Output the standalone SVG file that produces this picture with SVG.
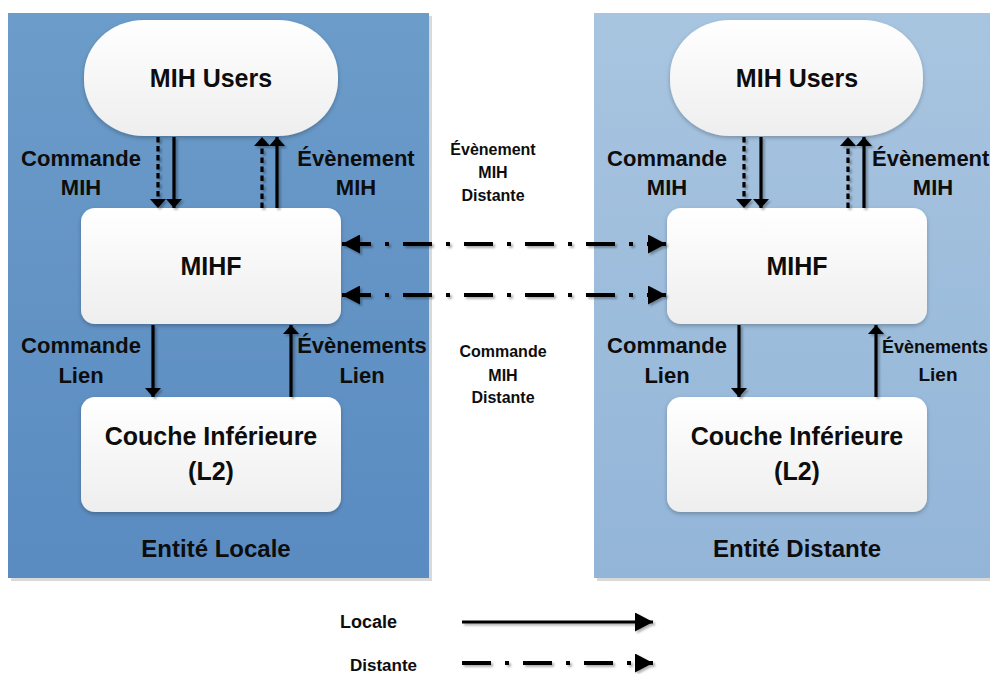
<svg xmlns="http://www.w3.org/2000/svg" width="990" height="674" viewBox="0 0 990 674">
<defs>
<linearGradient id="gL" x1="0" y1="0" x2="0" y2="1"><stop offset="0" stop-color="#6c9cc9"/><stop offset="1" stop-color="#5a8bc1"/></linearGradient>
<linearGradient id="gR" x1="0" y1="0" x2="0" y2="1"><stop offset="0" stop-color="#a8c5e0"/><stop offset="1" stop-color="#93b5d8"/></linearGradient>
<linearGradient id="gN" x1="0" y1="0" x2="0" y2="1"><stop offset="0" stop-color="#ffffff"/><stop offset="1" stop-color="#eeeeee"/></linearGradient>
<filter id="ns" x="-10%" y="-10%" width="120%" height="130%"><feDropShadow dx="0" dy="2" stdDeviation="2" flood-color="#000" flood-opacity="0.25"/></filter>
<filter id="ls" x="-10%" y="-10%" width="120%" height="130%"><feDropShadow dx="2" dy="2" stdDeviation="0.8" flood-color="#000" flood-opacity="0.3"/></filter>
<marker id="ah" viewBox="0 0 9 16" refX="9" refY="8" markerWidth="9" markerHeight="16" markerUnits="userSpaceOnUse" orient="auto"><path d="M0,0 L9,8 L0,16 z" fill="#000"/></marker>
<marker id="ahb" viewBox="0 0 18 19" refX="18" refY="9.5" markerWidth="18" markerHeight="19" markerUnits="userSpaceOnUse" orient="auto-start-reverse"><path d="M0,0 L18,9.5 L0,19 z" fill="#000"/></marker>
</defs>
<style>
text{font-family:"Liberation Sans",Arial,sans-serif;font-weight:bold;fill:#0d0d0d}
.n{font-size:25px;text-anchor:middle}
.l{font-size:22px;text-anchor:middle}
.m{font-size:16px;text-anchor:middle}
.node{fill:url(#gN);filter:url(#ns)}
.s{stroke:#000;stroke-width:3.2;fill:none}
.d{stroke:#000;stroke-width:3.2;fill:none;stroke-dasharray:5.5 3.5}
.dd{stroke:#000;stroke-width:4;fill:none;stroke-dasharray:29 14 4 14}
</style>
<rect x="11" y="16" width="421" height="565" fill="#d9d9d9"/>
<rect x="8" y="13" width="421" height="565" fill="url(#gL)"/>
<rect x="597" y="16" width="400" height="565" fill="#d9d9d9"/>
<rect x="594" y="13" width="400" height="565" fill="url(#gR)"/>

<g id="users-local"><rect class="node" x="84" y="20" width="254" height="116" rx="60" ry="56"/><text class="n" x="211" y="87">MIH Users</text></g>
<g id="mihf-local"><rect class="node" x="81" y="208" width="260" height="116" rx="14"/><text class="n" x="211" y="275">MIHF</text></g>
<g id="l2-local"><rect class="node" x="81" y="397" width="260" height="115" rx="14"/><text class="n" x="211" y="445">Couche Inférieure</text><text class="n" x="211" y="480">(L2)</text></g>
<g id="users-remote"><rect class="node" x="670" y="20" width="253" height="116" rx="60" ry="56"/><text class="n" x="797" y="87">MIH Users</text></g>
<g id="mihf-remote"><rect class="node" x="667" y="208" width="260" height="116" rx="14"/><text class="n" x="797" y="275">MIHF</text></g>
<g id="l2-remote"><rect class="node" x="667" y="397" width="260" height="115" rx="14"/><text class="n" x="797" y="445">Couche Inférieure</text><text class="n" x="797" y="480">(L2)</text></g>

<g id="connectors" filter="url(#ls)">
<line class="d" x1="158" y1="137" x2="158" y2="208" marker-end="url(#ah)"/>
<line class="s" x1="174" y1="137" x2="174" y2="208" marker-end="url(#ah)"/>
<line class="d" x1="262" y1="208" x2="262" y2="137" marker-end="url(#ah)"/>
<line class="s" x1="277" y1="208" x2="277" y2="137" marker-end="url(#ah)"/>
<line class="s" x1="153" y1="325" x2="153" y2="397" marker-end="url(#ah)"/>
<line class="s" x1="291" y1="397" x2="291" y2="325" marker-end="url(#ah)"/>
<line class="d" x1="744" y1="137" x2="744" y2="208" marker-end="url(#ah)"/>
<line class="s" x1="761" y1="137" x2="761" y2="208" marker-end="url(#ah)"/>
<line class="d" x1="848" y1="208" x2="848" y2="137" marker-end="url(#ah)"/>
<line class="s" x1="864" y1="208" x2="864" y2="137" marker-end="url(#ah)"/>
<line class="s" x1="739" y1="325" x2="739" y2="397" marker-end="url(#ah)"/>
<line class="s" x1="876" y1="397" x2="876" y2="325" marker-end="url(#ah)"/>
<line class="dd" x1="342" y1="244" x2="666" y2="244" marker-start="url(#ahb)" marker-end="url(#ahb)"/>
<line class="dd" x1="342" y1="295" x2="666" y2="295" marker-start="url(#ahb)" marker-end="url(#ahb)"/>
<line class="s" x1="462" y1="622" x2="653" y2="622" stroke-width="4" marker-end="url(#ahb)"/>
<line class="dd" x1="462" y1="663" x2="653" y2="663" marker-end="url(#ahb)"/>
</g>

<g id="labels">
<text class="l" x="81" y="166">Commande</text><text class="l" x="81" y="195">MIH</text>
<text class="l" x="356" y="166">Évènement</text><text class="l" x="356" y="195">MIH</text>
<text class="l" x="81" y="353">Commande</text><text class="l" x="81" y="383">Lien</text>
<text class="l" x="362" y="353">Évènements</text><text class="l" x="362" y="383">Lien</text>
<text class="l" x="667" y="166">Commande</text><text class="l" x="667" y="195">MIH</text>
<text class="l" x="872" y="166" style="text-anchor:start">Évènement</text><text class="l" x="933" y="195">MIH</text>
<text class="l" x="667" y="353">Commande</text><text class="l" x="667" y="383">Lien</text>
<text x="882" y="353" style="font-size:18px">Évènements</text><text x="938" y="381" style="font-size:19px;text-anchor:middle">Lien</text>
<text class="m" x="493" y="155">Évènement</text><text class="m" x="493" y="178">MIH</text><text class="m" x="493" y="201">Distante</text>
<text class="m" x="503" y="357">Commande</text><text class="m" x="503" y="381">MIH</text><text class="m" x="503" y="403">Distante</text>
<text style="font-size:24px;text-anchor:middle" x="216" y="557">Entité Locale</text>
<text style="font-size:24px;text-anchor:middle" x="797" y="557">Entité Distante</text>
<text style="font-size:18px" x="340" y="628">Locale</text>
<text style="font-size:17px" x="350" y="671">Distante</text>
</g>
</svg>
